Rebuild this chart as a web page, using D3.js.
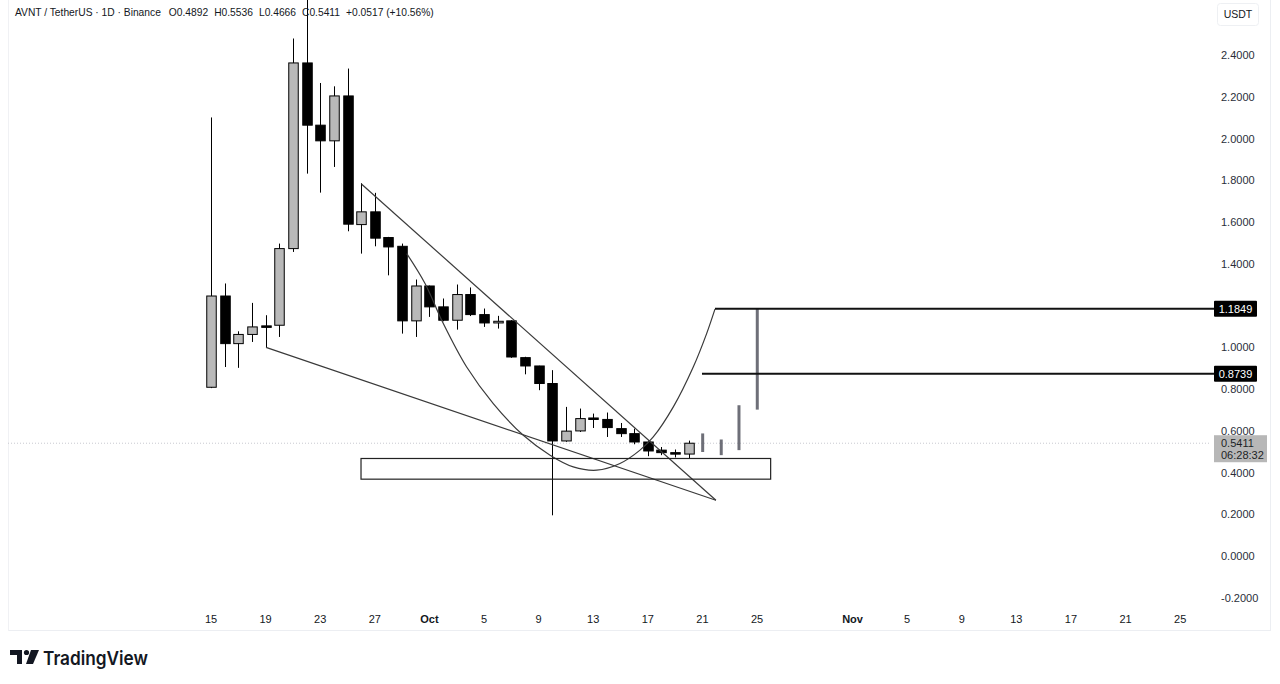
<!DOCTYPE html>
<html>
<head>
<meta charset="utf-8">
<script src="https://cdn.jsdelivr.net/npm/d3@7"></script>
<style>
  html, body { margin: 0; padding: 0; background: #ffffff; }
  svg { display: block; font-family: "Liberation Sans", Arial, sans-serif; }
</style>
</head>
<body>
<svg id="chart" width="1280" height="684"></svg>
<script>
// ---------------- DATA ----------------
const startDay = "2025-09-15";
const candleDates = [
  "2025-09-15","2025-09-16","2025-09-17","2025-09-18","2025-09-19","2025-09-20","2025-09-21",
  "2025-09-22","2025-09-23","2025-09-24","2025-09-25","2025-09-26","2025-09-27","2025-09-28",
  "2025-09-29","2025-09-30","2025-10-01","2025-10-02","2025-10-03","2025-10-04","2025-10-05",
  "2025-10-06","2025-10-07","2025-10-08","2025-10-09","2025-10-10","2025-10-11","2025-10-12",
  "2025-10-13","2025-10-14","2025-10-15","2025-10-16","2025-10-17","2025-10-18","2025-10-19",
  "2025-10-20"
];
const opens  = [0.809,1.246,1.018,1.062,1.103,1.106,1.473,2.362,2.064,1.989,2.204,1.588,1.649,1.526,
                1.484,1.127,1.294,1.194,1.130,1.253,1.157,1.117,1.127,0.951,0.911,0.827,0.552,0.600,
                0.662,0.655,0.611,0.587,0.547,0.508,0.496,0.4892];
const highs  = [2.101,1.306,1.077,1.213,1.154,1.497,2.479,2.750,2.266,2.250,2.335,1.786,1.740,1.529,
                1.497,1.325,1.296,1.234,1.301,1.287,1.186,1.151,1.130,0.955,0.912,0.891,0.715,0.707,
                0.683,0.688,0.638,0.611,0.555,0.523,0.511,0.5536];
const lows   = [0.805,0.906,0.902,1.026,1.000,1.050,1.457,1.832,1.741,1.864,1.556,1.449,1.484,1.345,
                1.066,1.050,1.146,1.125,1.085,1.150,1.098,1.090,0.950,0.871,0.795,0.196,0.548,0.595,
                0.614,0.571,0.571,0.536,0.479,0.484,0.473,0.4666];
const closes = [1.246,1.018,1.062,1.098,1.098,1.473,2.362,2.064,1.989,2.204,1.590,1.649,1.523,1.481,
                1.127,1.294,1.194,1.130,1.253,1.157,1.117,1.125,0.954,0.911,0.827,0.552,0.599,0.659,
                0.659,0.616,0.587,0.547,0.504,0.496,0.494,0.5411];

// projected "bars pattern" (day offset from start, low, high)
const projDays  = [36.02, 37.38, 38.68, 40.02];
const projLows  = [0.499, 0.484, 0.508, 0.702];
const projHighs = [0.588, 0.559, 0.723, 1.186];

// drawings: [dayOffset, price]
const upperTrend = [[11.04, 1.781], [36.99, 0.268]];
const lowerTrend = [[4.03, 1.000], [36.99, 0.268]];
const arcCurve = [
  [14.34,1.449],[15.68,1.306],[17.02,1.114],[18.73,0.906],[20.68,0.731],[22.88,0.579],
  [24.84,0.484],[26.54,0.428],[28.26,0.412],[29.96,0.444],[31.43,0.508],[32.40,0.571],
  [33.87,0.715],[35.33,0.906],[36.31,1.066],[36.92,1.183]
];
const zoneBox = { d0: 10.99, d1: 41.0, p0: 0.468, p1: 0.369 };
const targetLevels = [1.1849, 0.8739];
const targetStartDays = [36.92, 35.97];
const lastPrice = 0.5411;
const countdown = "06:28:32";

const priceTicks = [2.4, 2.2, 2.0, 1.8, 1.6, 1.4, 1.0, 0.8, 0.6, 0.4, 0.2, 0.0, -0.2];
const dateTicks = ["2025-09-15","2025-09-19","2025-09-23","2025-09-27","2025-10-01","2025-10-05",
  "2025-10-09","2025-10-13","2025-10-17","2025-10-21","2025-10-25","2025-11-01","2025-11-05",
  "2025-11-09","2025-11-13","2025-11-17","2025-11-21","2025-11-25"];
const dateLabels = ["15","19","23","27","Oct","5","9","13","17","21","25","Nov","5","9","13","17","21","25"];

const headerTexts = ["AVNT / TetherUS · 1D · Binance", "O0.4892", "H0.5536", "L0.4666", "C0.5411", "+0.0517 (+10.56%)"];

// ---------------- SCALES ----------------
const parse = d3.utcParse("%Y-%m-%d");
const t0 = parse(startDay);
const dayDate = d => new Date(t0.getTime() + d * 86400000);
const x = d3.scaleUtc().domain([t0, parse("2025-10-25")]).range([211, 757]);
const y = d3.scaleLinear().domain([-0.2, 2.4]).range([598, 55]);
const xd = d => x(dayDate(d));

const svg = d3.select("#chart");
svg.append("rect").attr("width",1280).attr("height",684).attr("fill","#ffffff");

const plotRight = 1210;
svg.append("defs").append("clipPath").attr("id","plotClip")
  .append("rect").attr("x",8).attr("y",0).attr("width",plotRight-8).attr("height",604);

// frame
svg.append("line").attr("x1",8).attr("x2",1271).attr("y1",630.5).attr("y2",630.5).attr("stroke","#eceef2");
svg.append("line").attr("x1",8.5).attr("x2",8.5).attr("y1",0).attr("y2",631).attr("stroke","#f0f1f4");
svg.append("line").attr("x1",1270.5).attr("x2",1270.5).attr("y1",0).attr("y2",631).attr("stroke","#eceef2");

const plot = svg.append("g").attr("clip-path","url(#plotClip)");

// last price dotted line
plot.append("line").attr("x1",8).attr("x2",plotRight).attr("y1",y(lastPrice)).attr("y2",y(lastPrice))
  .attr("stroke","#c8cad0").attr("stroke-width",1).attr("stroke-dasharray","1,2");

// candles
const candles = candleDates.map((d,i)=>({date: parse(d), o: opens[i], h: highs[i], l: lows[i], c: closes[i]}));
const bw = 9.5;
const cg = plot.append("g");
cg.selectAll("line.wick").data(candles).join("line")
  .attr("x1", d => Math.round(x(d.date)) + 0.5).attr("x2", d => Math.round(x(d.date)) + 0.5)
  .attr("y1", d => y(d.h)).attr("y2", d => y(d.l))
  .attr("stroke", "#000").attr("stroke-width", 1);
cg.selectAll("rect.body").data(candles).join("rect")
  .attr("x", d => Math.round(x(d.date)) - bw/2 + 0.5)
  .attr("width", bw)
  .attr("y", d => y(Math.max(d.o, d.c)))
  .attr("height", d => Math.max(1.5, Math.abs(y(d.o) - y(d.c))))
  .attr("fill", d => d.c >= d.o ? "#b9b9b9" : "#000000")
  .attr("stroke", "#000").attr("stroke-width", 1);

// projection bars
plot.selectAll("line.proj").data(projDays).join("line")
  .attr("x1", (d) => xd(d)).attr("x2", (d) => xd(d))
  .attr("y1", (d,i) => y(projHighs[i])).attr("y2", (d,i) => y(projLows[i]))
  .attr("stroke", "#6e6f78").attr("stroke-width", 3);

// trend lines
const ln = d3.line().x(p => xd(p[0])).y(p => y(p[1]));
plot.append("path").attr("d", ln(upperTrend)).attr("fill","none").attr("stroke","#3a3a3a").attr("stroke-width",1.2);
plot.append("path").attr("d", ln(lowerTrend)).attr("fill","none").attr("stroke","#3a3a3a").attr("stroke-width",1.2);
// arc
plot.append("path").attr("d", ln.curve(d3.curveCatmullRom)(arcCurve)).attr("fill","none")
  .attr("stroke","#3a3a3a").attr("stroke-width",1.2);
// zone box
plot.append("rect").attr("x", xd(zoneBox.d0)).attr("y", y(zoneBox.p0))
  .attr("width", xd(zoneBox.d1) - xd(zoneBox.d0)).attr("height", y(zoneBox.p1) - y(zoneBox.p0))
  .attr("fill","none").attr("stroke","#222").attr("stroke-width",1.2);

// target levels
targetLevels.forEach((lv,i) => {
  svg.append("line").attr("x1", xd(targetStartDays[i])).attr("x2", 1214)
    .attr("y1", y(lv)).attr("y2", y(lv)).attr("stroke","#111").attr("stroke-width",2);
});

// price axis labels
const axg = svg.append("g");
axg.selectAll("text").data(priceTicks).join("text")
  .attr("x", 1221).attr("y", d => y(d) + 4)
  .attr("font-size", 11).attr("fill", "#2a2e39")
  .text(d => d.toFixed(4));

// level labels
targetLevels.forEach(lv => {
  svg.append("rect").attr("x",1214).attr("y", y(lv) - 8).attr("width",43).attr("height",16)
    .attr("fill","#000").attr("rx",1);
  svg.append("text").attr("x",1235.5).attr("y", y(lv) + 4).attr("text-anchor","middle")
    .attr("font-size",11).attr("fill","#fff").text(lv.toFixed(4));
});
// last price label
svg.append("rect").attr("x",1214).attr("y", y(lastPrice) - 8).attr("width",53).attr("height",27)
  .attr("fill","#b7b7b7");
svg.append("text").attr("x",1221).attr("y", y(lastPrice) + 3.5).attr("font-size",11).attr("fill","#1d1f26")
  .text(lastPrice.toFixed(4));
svg.append("text").attr("x",1221).attr("y", y(lastPrice) + 16).attr("font-size",11).attr("fill","#1d1f26")
  .text(countdown);

// USDT box
svg.append("rect").attr("x",1217.5).attr("y",3.5).attr("width",41).attr("height",22).attr("rx",3)
  .attr("fill","#fff").attr("stroke","#eef0f3");
svg.append("text").attr("x",1238).attr("y",18).attr("text-anchor","middle").attr("font-size",10.5)
  .attr("fill","#131722").text("USDT");

// date axis
const dg = svg.append("g");
dg.selectAll("text").data(dateTicks).join("text")
  .attr("x", d => x(parse(d))).attr("y", 623).attr("text-anchor","middle")
  .attr("font-size", 11).attr("fill", "#131722")
  .attr("font-weight", (d,i) => (dateLabels[i] === "Oct" || dateLabels[i] === "Nov") ? 700 : 400)
  .text((d,i) => dateLabels[i]);

// header: laid out sequentially, font sized so the whole line spans x 15..432
const hg = svg.append("g");
function layoutHeader(fs) {
  hg.selectAll("*").remove();
  let hx = 15;
  headerTexts.forEach((s, i) => {
    const t = hg.append("text").attr("x", hx).attr("y", 16).attr("font-size", fs).attr("fill","#131722").text(s);
    hx += t.node().getComputedTextLength() + (i === 0 ? 8 : 6);
  });
  return hx - 6;
}
const wTest = layoutHeader(11) - 15;
layoutHeader(11 * 417 / wTest);

// TradingView logo
const lg = svg.append("g").attr("fill","#131722");
lg.append("path").attr("d","M10,650 H22 V664 H17 V655 H10 Z");
lg.append("circle").attr("cx",26.5).attr("cy",652.5).attr("r",2.6);
lg.append("path").attr("d","M31,650 H39 L33,664 H26 Z");
lg.append("text").attr("x",43).attr("y",664.5).attr("font-size",19).attr("font-weight",600)
  .attr("font-family","Inter, 'Noto Sans', sans-serif").attr("textLength",105).attr("lengthAdjust","spacingAndGlyphs")
  .text("TradingView");
</script>
</body>
</html>
